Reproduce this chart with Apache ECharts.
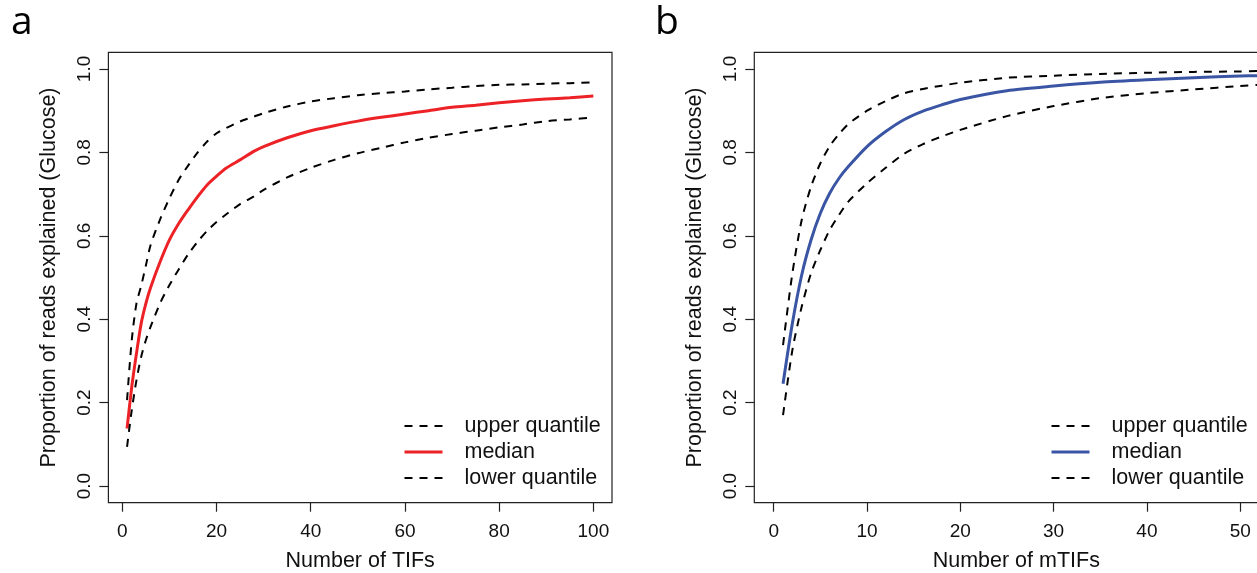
<!DOCTYPE html>
<html>
<head>
<meta charset="utf-8">
<script src="https://cdn.jsdelivr.net/npm/echarts@6/dist/echarts.min.js"></script>
<style>
html,body{margin:0;padding:0;background:#fff;}
#chart{width:1257px;height:573px;}
</style>
</head>
<body>
<div id="chart"></div>
<script>
// ---------- Data ----------
// Panel a: Number of TIFs
const xA = [1,2,3,4,5,6,8,10,12,14,16,18,20,22,25,28,30,35,40,45,50,55,60,65,70,75,80,85,90,95,100];
const upperA = [0.206,0.35,0.438,0.48,0.529,0.578,0.639,0.69,0.735,0.769,0.8,0.826,0.846,0.858,0.874,0.886,0.894,0.91,0.922,0.93,0.937,0.942,0.946,0.951,0.955,0.959,0.962,0.963,0.965,0.966,0.968];
const medianA = [0.138,0.238,0.318,0.39,0.438,0.476,0.537,0.59,0.63,0.663,0.694,0.722,0.743,0.762,0.782,0.803,0.814,0.835,0.852,0.864,0.875,0.884,0.892,0.9,0.908,0.913,0.919,0.924,0.928,0.931,0.935];
const lowerA = [0.094,0.182,0.254,0.31,0.35,0.382,0.438,0.482,0.52,0.556,0.586,0.612,0.633,0.651,0.676,0.695,0.71,0.74,0.763,0.782,0.798,0.811,0.824,0.835,0.844,0.852,0.86,0.867,0.875,0.879,0.884];

// Panel b: Number of mTIFs
const xB = [1,2,3,4,5,6,7,8,10,12,14,16,18,20,25,30,35,40,45,50,52];
const upperB = [0.338,0.51,0.638,0.718,0.774,0.815,0.844,0.868,0.9,0.923,0.942,0.952,0.96,0.967,0.979,0.984,0.988,0.991,0.993,0.994,0.995];
const medianB = [0.245,0.39,0.506,0.59,0.654,0.702,0.738,0.766,0.814,0.85,0.879,0.899,0.914,0.927,0.948,0.959,0.968,0.974,0.979,0.983,0.984];
const lowerB = [0.17,0.326,0.43,0.51,0.566,0.614,0.65,0.682,0.726,0.763,0.797,0.82,0.838,0.854,0.887,0.911,0.93,0.942,0.951,0.959,0.962];

// Tick values
const xTicksA = [0,20,40,60,80,100];
const xTicksB = [0,10,20,30,40,50];
const yTicks = [0,0.2,0.4,0.6,0.8,1.0];

const seriesNames = ['upper quantile','median','lower quantile'];
const panelLabels = ['a','b'];
const xTitles = ['Number of TIFs','Number of mTIFs'];
const yTitle = 'Proportion of reads explained (Glucose)';

// ---------- Styling ----------
const FONT = '"Liberation Sans", Arial, Helvetica, sans-serif';
const INK = '#111';
const BOX = '#222';
const RED = '#ec2227';
const BLUE = '#3b55a5';
const DASH = [8,7];

function zip(xs, ys){ return xs.map((x,i)=>[x, ys[i]]); }

function makeX(idx, min, max, ticks, title){
  return {
    type:'value', gridIndex:idx, min:min, max:max,
    axisLine:{show:false, onZero:false},
    axisTick:{show:true, length:9, customValues:ticks, lineStyle:{color:BOX, width:1.2}},
    axisLabel:{customValues:ticks, margin:20, fontSize:19, color:INK, fontFamily:FONT},
    splitLine:{show:false},
    name:title, nameLocation:'middle', nameGap:47,
    nameTextStyle:{fontSize:21.5, color:INK, fontFamily:FONT}
  };
}
function makeY(idx){
  return {
    type:'value', gridIndex:idx, min:-0.04, max:1.04,
    axisLine:{show:false, onZero:false},
    axisTick:{show:true, length:9, customValues:yTicks, lineStyle:{color:BOX, width:1.2}},
    axisLabel:{customValues:yTicks, rotate:90, margin:14, fontSize:19, color:INK, fontFamily:FONT,
      formatter:function(v){ return Number(v).toFixed(1); }},
    splitLine:{show:false},
    name:yTitle, nameLocation:'middle', nameGap:48, nameRotate:90,
    nameTextStyle:{fontSize:21.5, color:INK, fontFamily:FONT}
  };
}
function dashed(name, idx, xs, ys){
  return {type:'line', name:name, xAxisIndex:idx, yAxisIndex:idx, data:zip(xs,ys),
    symbol:'none', smooth:0.25, lineStyle:{color:'#000', width:2, type:DASH}, itemStyle:{color:'#000'},
    silent:true, animation:false};
}
function solid(name, idx, xs, ys, color){
  return {type:'line', name:name, xAxisIndex:idx, yAxisIndex:idx, data:zip(xs,ys),
    symbol:'none', smooth:0.25, lineStyle:{color:color, width:3}, itemStyle:{color:color},
    silent:true, animation:false};
}
function makeLegend(prefix, left, medColor){
  return {
    orient:'vertical', left:left, top:415, padding:0,
    itemWidth:38, itemHeight:14, itemGap:4,
    data: [
      {name:prefix+seriesNames[0], lineStyle:{color:'#000', width:2, type:DASH}},
      {name:prefix+seriesNames[1], lineStyle:{color:medColor, width:3, type:'solid'}},
      {name:prefix+seriesNames[2], lineStyle:{color:'#000', width:2, type:DASH}}
    ],
    formatter: function(n){ return n.replace(/^[ab]:/, ''); },
    itemStyle:{opacity:0},
    textStyle:{fontSize:21.5, color:INK, fontFamily:FONT, lineHeight:22, padding:[0,0,0,17]},
    selectedMode:false
  };
}

const chart = echarts.init(document.getElementById('chart'), null, {renderer:'canvas'});
chart.setOption({
  backgroundColor:'#fff',
  animation:false,
  grid:[
    {left:108.4, top:52.3, width:503.6, height:450.4, show:true, borderColor:BOX, borderWidth:1.2, backgroundColor:'transparent', outerBoundsMode:'none'},
    {left:754.3, top:52.3, width:524, height:450.4, show:true, borderColor:BOX, borderWidth:1.2, backgroundColor:'transparent', outerBoundsMode:'none'}
  ],
  xAxis:[ makeX(0, -2.96, 103.96, xTicksA, xTitles[0]), makeX(1, -2.08, 54.08, xTicksB, xTitles[1]) ],
  yAxis:[ makeY(0), makeY(1) ],
  legend:[ makeLegend('a:', 403, RED), makeLegend('b:', 1050, BLUE) ],
  series:[
    dashed('a:'+seriesNames[0], 0, xA, upperA),
    solid('a:'+seriesNames[1], 0, xA, medianA, RED),
    dashed('a:'+seriesNames[2], 0, xA, lowerA),
    dashed('b:'+seriesNames[0], 1, xB, upperB),
    solid('b:'+seriesNames[1], 1, xB, medianB, BLUE),
    dashed('b:'+seriesNames[2], 1, xB, lowerB)
  ],
  graphic:[
    {type:'text', left:11, top:3, style:{text:panelLabels[0], fontSize:39, fontFamily:'"Open Sans", "Noto Sans", sans-serif', fill:'#000'}},
    {type:'text', left:655, top:3, style:{text:panelLabels[1], fontSize:39, fontFamily:'"Open Sans", "Noto Sans", sans-serif', fill:'#000'}}
  ]
});
</script>
</body>
</html>
